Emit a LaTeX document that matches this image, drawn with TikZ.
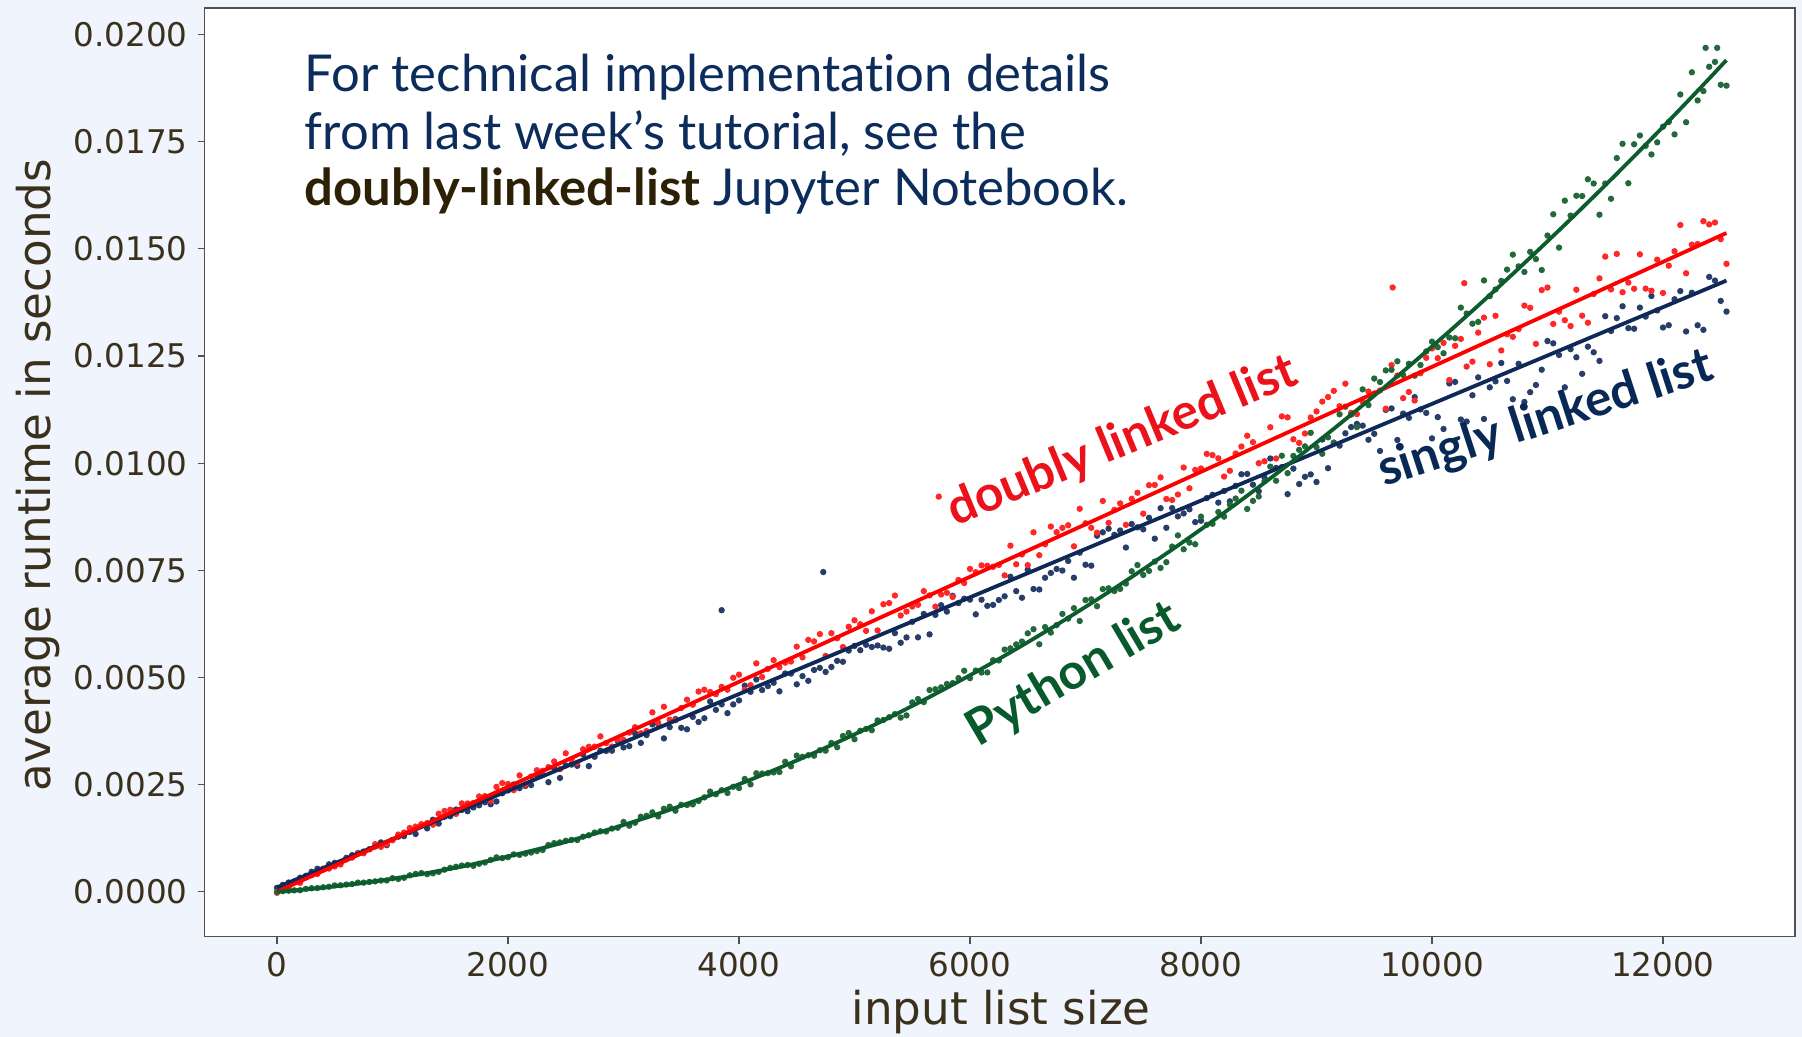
\documentclass[tikz,border=0pt]{standalone}
\usepackage{fontspec}
\setmainfont{DejaVu Sans}
\newfontfamily\notefont{Lato}[Ligatures={NoCommon,NoDiscretionary}]
\definecolor{bgc}{RGB}{239,244,253}
\definecolor{tickc}{RGB}{58,48,28}
\definecolor{notec}{RGB}{12,44,92}
\definecolor{brownc}{RGB}{45,33,5}
\definecolor{redl}{RGB}{255,0,0}
\definecolor{redt}{RGB}{236,18,28}
\definecolor{bluel}{RGB}{14,40,88}
\definecolor{bluet}{RGB}{8,40,85}
\definecolor{greenl}{RGB}{12,92,45}
\definecolor{greent}{RGB}{8,90,45}
\definecolor{framec}{RGB}{80,80,80}
\definecolor{reddot}{RGB}{255,40,40}
\definecolor{bluedot}{RGB}{40,62,105}
\definecolor{greendot}{RGB}{35,105,60}
\begin{document}
\begin{tikzpicture}[x=0.5pt,y=0.5pt,
  ticklab/.style={font=\fontsize{16.3}{16.3}\selectfont, text=tickc, inner sep=0pt},
  axlab/.style={font=\fontsize{22.6}{22.6}\selectfont, text=tickc, inner sep=0pt},
  notetext/.style={font=\notefont\fontsize{25.4}{25.4}\selectfont, text=notec, inner sep=0pt, anchor=base west},
  curvelab/.style={font=\notefont\bfseries\fontsize{24.8}{24.8}\selectfont, inner sep=0pt, anchor=base},
  fitline/.style={line width=1.9pt},
  tickmark/.style={draw=framec, line width=0.6pt},
  dotr/.style={fill=reddot},
  dotb/.style={fill=bluedot},
  dotg/.style={fill=greendot},
]
\useasboundingbox (0,0) rectangle (1802,1037);
\fill[bgc] (0,0) rectangle (1802,1037);
\fill[white] (204.6,100.4) rectangle (1795,1029);

% y ticks
\foreach \k/\lab in {0/0.0000,1/0.0025,2/0.0050,3/0.0075,4/0.0100,5/0.0125,6/0.0150,7/0.0175,8/0.0200}{
  \pgfmathsetmacro\Y{145.2+107.15*\k}
  \draw[tickmark] (204.6,\Y) -- (197.6,\Y);
  \node[ticklab, anchor=east] (yt\k) at (188,\Y) {\lab};
}
% x ticks
\foreach \k in {0,...,6}{
  \pgfmathsetmacro\X{277+230.98*\k}
  \pgfmathtruncatemacro\lab{2000*\k}
  \draw[tickmark] (\X,100.4) -- (\X,93.4);
  \node[ticklab, anchor=base] (xt\k) at (\X,60.5) {\lab};
}
\node[axlab, anchor=base] (xlabel) at (1001,12) {input list size};
\node[axlab, anchor=base, rotate=90] (ylabel) at (50,562) {average runtime in seconds};

% data
\begin{scope}[shift={(138.5pt,72.6pt)}, x=57.745pt, y=21.43pt]
  \pgfmathsetseed{7}
  \foreach \i in {0,...,251}{
    \pgfmathsetmacro\xx{\i*0.05}
    \pgfmathsetmacro\yb{0.1+1.128*\xx}
    \pgfmathsetmacro\ybn{\yb+(0.03+0.05*\yb)*rand-0.02*\yb}
    \fill[dotb] (\xx,\ybn) circle[radius=1.6pt];
  }
  \foreach \i in {0,...,251}{
    \pgfmathsetmacro\xx{\i*0.05}
    \pgfmathsetmacro\yr{1.225*\xx}
    \pgfmathsetmacro\yrn{\yr+(0.03+0.05*\yr)*rand}
    \fill[dotr] (\xx,\yrn) circle[radius=1.6pt];
  }
  \foreach \i in {0,...,251}{
    \pgfmathsetmacro\xx{\i*0.05}
    \pgfmathsetmacro\yg{0.197*\xx+0.1075*\xx*\xx}
    \pgfmathsetmacro\ygn{\yg+(0.02+0.035*\yg)*rand}
    \fill[dotg] (\xx,\ygn) circle[radius=1.6pt];
  }
  % outliers
  \fill[dotb] (4.73,7.46) circle[radius=1.6pt];
  \fill[dotb] (3.85,6.57) circle[radius=1.6pt];
  \fill[dotr] (9.66,14.1) circle[radius=1.6pt];
  \fill[dotr] (10.28,14.2) circle[radius=1.6pt];
  \fill[dotr] (5.73,9.22) circle[radius=1.6pt];
  \fill[dotg] (12.37,19.69) circle[radius=1.6pt];
  \fill[dotg] (12.47,19.69) circle[radius=1.6pt];

  \coordinate (b0) at (0,0.1);
  \coordinate (b1) at (12.55,14.26);
  \coordinate (r0) at (0,0);
  \coordinate (r1) at (12.55,15.37);
  \draw[fitline, bluel] (b0) -- (b1);
  \draw[fitline, redl] (r0) -- (r1);
  \draw[fitline, greenl] plot[domain=0:12.55, samples=90] (\x,{0.197*\x+0.1075*\x*\x});
\end{scope}

\draw[draw=framec, line width=0.75pt] (204.6,100.4) rectangle (1795,1029);

% annotation
\node[notetext] (note1) at (304.5,945) {For technical implementation details};
\node[notetext] (note2) at (304.5,887.6) {from last week’s tutorial, see the};
\node[notetext] (note3) at (304.5,831.3) {{\bfseries\color{brownc}doubly-linked-list} Jupyter Notebook.};

% curve labels
\node[curvelab, text=redt, rotate=22.5] (dll) at (1128,582) {doubly linked list};
\node[curvelab, text=bluet, rotate=18] (sll) at (1550,604) {singly linked list};
\node[curvelab, text=greent, rotate=30.5] (pyl) at (1081,350) {Python list};
\end{tikzpicture}
\end{document}
